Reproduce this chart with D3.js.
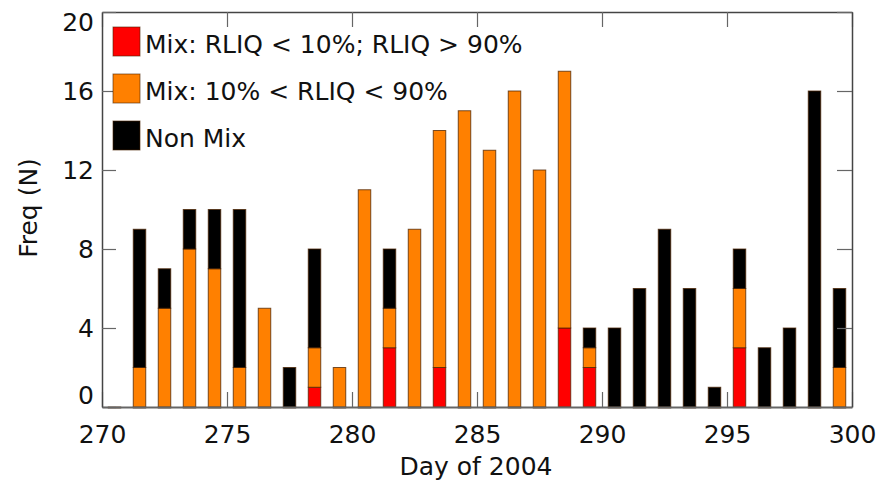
<!DOCTYPE html>
<html>
<head>
<meta charset="utf-8">
<script src="https://cdn.jsdelivr.net/npm/d3@7"></script>
<style>
  body { margin: 0; background: #fff; }
  svg { display: block; font-family: 'DejaVu Sans', sans-serif; }
</style>
</head>
<body>
<div id="container"></div>
<script>
// daily counts
const days = [270, 271, 272, 273, 274, 275, 276, 277, 278, 279, 280, 281, 282, 283, 284,
  285, 286, 287, 288, 289, 290, 291, 292, 293, 294, 295, 296, 297, 298, 299];
const mixExtreme = [0, 0, 0, 0, 0, 0, 0, 0, 1, 0, 0, 3, 0, 2, 0,
  0, 0, 0, 4, 2, 0, 0, 0, 0, 0, 3, 0, 0, 0, 0];
const mixMid = [0, 2, 5, 8, 7, 2, 5, 0, 2, 2, 11, 2, 9, 12, 15,
  13, 16, 12, 13, 1, 0, 0, 0, 0, 0, 3, 0, 0, 0, 2];
const nonMix = [0, 7, 2, 2, 3, 8, 0, 2, 5, 0, 0, 3, 0, 0, 0,
  0, 0, 0, 0, 1, 4, 6, 9, 6, 1, 2, 3, 4, 16, 4];

const seriesKeys = ['ext', 'mid', 'non'];
const seriesNames = ['Mix: RLIQ < 10%; RLIQ > 90%', 'Mix: 10% < RLIQ < 90%', 'Non Mix'];
const seriesColors = ['#ff0000', '#ff8000', '#000000'];

const xTicks = [270, 275, 280, 285, 290, 295, 300];
const yTicks = [0, 4, 8, 12, 16, 20];

const width = 878; const height = 485;
const svg = d3.select('#container').append('svg')
    .attr('width', width)
    .attr('height', height);

const x = d3.scaleLinear().domain([270, 300]).range([102, 852]);
const y = d3.scaleLinear().domain([0, 20]).range([407, 12]);

const table = days.map((d, i) => ({day: d, ext: mixExtreme[i], mid: mixMid[i], non: nonMix[i]}));
const stacked = d3.stack().keys(seriesKeys)(table);

// bars
const layers = svg.append('g').selectAll('g')
    .data(stacked)
    .join('g')
    .attr('fill', (d, i) => seriesColors[i]);

layers.selectAll('rect')
    .data((d) => d)
    .join('rect')
    .attr('x', (d) => x(d.data.day + 0.25))
    .attr('width', (d) => x(d.data.day + 0.75) - x(d.data.day + 0.25))
    .attr('y', (d) => y(d[1]))
    .attr('height', function(d) {
      const h = y(d[0]) - y(d[1]);
      // zero red segments still leave a thin line at the base
      return (this.parentNode.__data__.key == 'ext') ? Math.max(h, 1) : h;
    })
    .attr('stroke', '#4a2200')
    .attr('stroke-opacity', 0.75)
    .attr('stroke-width', 1);

// axes, all ticks pointing inward
const axisStyle = (g) => {
  g.select('.domain').attr('stroke', '#444').attr('stroke-width', 1.5);
  g.selectAll('.tick line').attr('stroke', '#666').attr('stroke-width', 1.2);
  g.selectAll('.tick text').attr('fill', '#111').style('font-size', '25px')
      .style('font-family', '\'DejaVu Sans\', sans-serif');
};

svg.append('g')
    .attr('transform', 'translate(0,' + y(0) + ')')
    .call(d3.axisBottom(x).tickValues(xTicks).tickFormat(d3.format('d'))
        .tickSizeInner(-15).tickSizeOuter(0).tickPadding(18))
    .call(axisStyle)
    .call((g) => g.select('.domain').attr('stroke', '#666').attr('stroke-width', 2));

svg.append('g')
    .attr('transform', 'translate(0,' + y(20) + ')')
    .call(d3.axisTop(x).tickValues(xTicks).tickFormat('')
        .tickSizeInner(-15).tickSizeOuter(0))
    .call(axisStyle);

svg.append('g')
    .attr('transform', 'translate(' + x(270) + ',0)')
    .call(d3.axisLeft(y).tickValues(yTicks).tickFormat(d3.format('d'))
        .tickSizeInner(-14).tickSizeOuter(0).tickPadding(8))
    .call(axisStyle)
    .call((g) => g.selectAll('.tick text')
        .attr('dy', (d) => d == 0 ? '-0.16em' : (d == 20 ? '0.72em' : '0.34em')));

svg.append('g')
    .attr('transform', 'translate(' + x(300) + ',0)')
    .call(d3.axisRight(y).tickValues(yTicks).tickFormat('')
        .tickSizeInner(-15).tickSizeOuter(0))
    .call(axisStyle);

// axis titles
svg.append('text')
    .attr('x', 476).attr('y', 475)
    .attr('text-anchor', 'middle')
    .style('font-size', '25px')
    .attr('fill', '#111')
    .text('Day of 2004');

svg.append('text')
    .attr('transform', 'translate(37,208) rotate(-90)')
    .attr('text-anchor', 'middle')
    .style('font-size', '25px')
    .attr('fill', '#111')
    .text('Freq (N)');

// legend
const legend = svg.append('g').selectAll('g')
    .data(seriesNames)
    .join('g')
    .attr('transform', (d, i) => 'translate(113,' + (53 + i * 47) + ')');

legend.append('rect')
    .attr('y', -26).attr('width', 27).attr('height', 29)
    .attr('fill', (d, i) => seriesColors[i])
    .attr('stroke', '#4a2200').attr('stroke-opacity', 0.6);

legend.append('text')
    .attr('x', 32)
    .style('font-size', '25px')
    .attr('fill', '#111')
    .text((d) => d);
</script>
</body>
</html>
